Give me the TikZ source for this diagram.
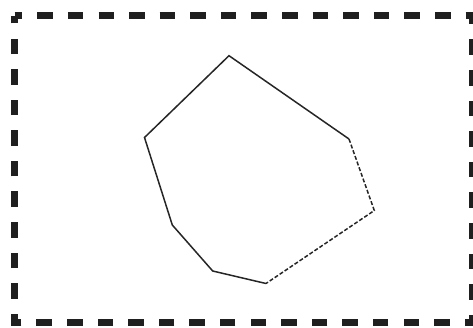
\documentclass[tikz,border=0pt]{standalone}
\begin{document}
\begin{tikzpicture}[x=1pt,y=-1pt,
  frameline/.style={line width=7pt, color=black!88, dash pattern=on 15.5pt off 15.09pt, dash phase=7.75pt},
  edgesolid/.style={line width=1.5pt, color=black!85, line join=miter},
  edgedashed/.style={line width=1.5pt, color=black!85, dash pattern=on 4pt off 2pt}]
\useasboundingbox (0,0) rectangle (473,327);
\coordinate (f1) at (14.5,15.8);
\coordinate (f2) at (472.5,322.5);
\draw[frameline] (f1) -- (f1 -| f2) -- (f2) -- (f1 |- f2) -- cycle;
\coordinate (a) at (229,55.7);
\coordinate (b) at (349,139);
\coordinate (c) at (374.3,210.5);
\coordinate (d) at (266,283.5);
\coordinate (e) at (212.7,271);
\coordinate (g) at (172.3,225);
\coordinate (h) at (144.5,137.5);
\draw[edgesolid] (b) -- (a) -- (h) -- (g) -- (e) -- (d);
\draw[edgedashed] (b) -- (c) -- (d);
\end{tikzpicture}
\end{document}
